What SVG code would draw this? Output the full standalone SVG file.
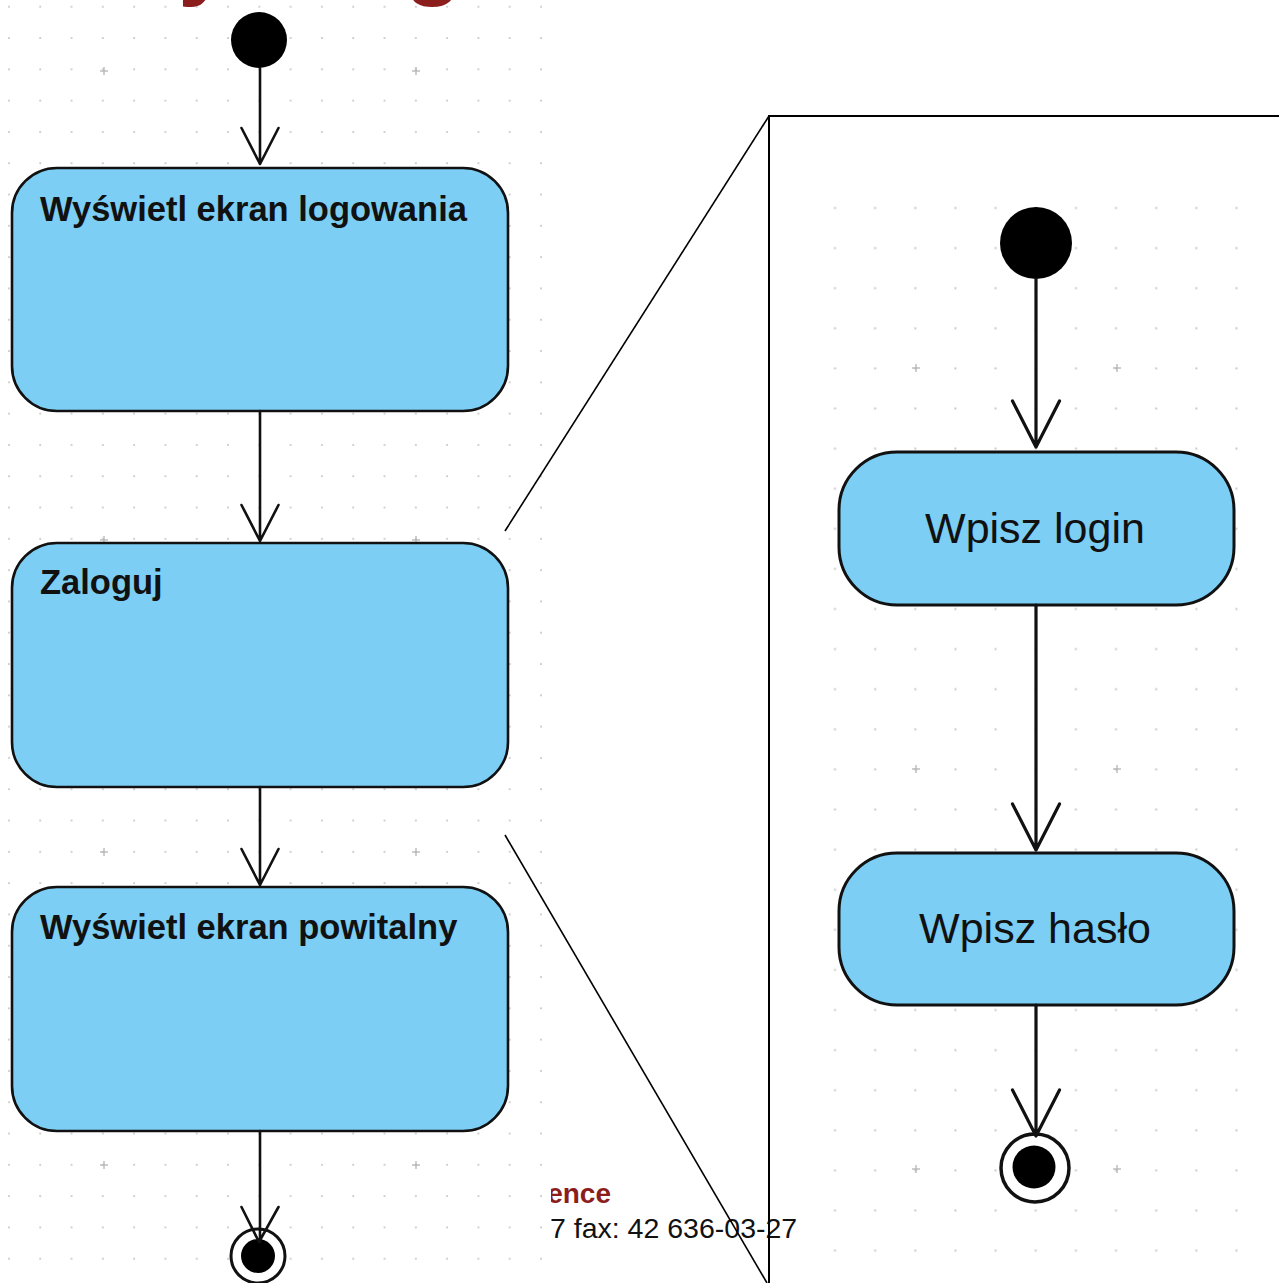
<svg xmlns="http://www.w3.org/2000/svg" width="1279" height="1283" viewBox="0 0 1279 1283">
  <style>
    .action { fill: #7CCEF4; stroke: #111; stroke-width: 2.6; }
    .action-r { fill: #7CCEF4; stroke: #111; stroke-width: 3; }
    .lbl-b { font-family: "Liberation Sans", Arial, sans-serif; font-weight: bold; font-size: 34.5px; fill: #111; }
    .lbl-r { font-family: "Liberation Sans", Arial, sans-serif; font-size: 43px; fill: #111; text-anchor: middle; }
    .flow { fill: none; stroke: #111; stroke-width: 2.6; stroke-linecap: round; stroke-linejoin: round; }
    .flow-r { fill: none; stroke: #111; stroke-width: 3.2; stroke-linecap: round; stroke-linejoin: round; }
    .plus { stroke: #b4b4b4; stroke-width: 1.3; }
    .frame { fill: none; stroke: #000; stroke-width: 2; }
    .zoomline { fill: none; stroke: #000; stroke-width: 1.6; }
    .title { font-family: "Liberation Sans", Arial, sans-serif; font-weight: bold; font-size: 96px; fill: #8C1D1D; }
    .foot-red { font-family: "Liberation Sans", Arial, sans-serif; font-weight: bold; font-size: 28px; fill: #8C1D1D; }
    .foot { font-family: "Liberation Sans", Arial, sans-serif; font-size: 28.5px; fill: #111; }
  </style>
  <defs>
    <pattern id="gridL" patternUnits="userSpaceOnUse" x="-6.75" y="-8.95" width="31.3" height="31.3">
      <rect x="14.8" y="14.8" width="1.8" height="1.8" fill="#c8c8c8"/>
    </pattern>
    <pattern id="gridR" patternUnits="userSpaceOnUse" x="815" y="188" width="40.15" height="40.1">
      <rect x="19" y="19" width="2" height="2" fill="#c8c8c8"/>
    </pattern>
    <clipPath id="topClip"><rect x="0" y="0" width="600" height="9"/></clipPath>
    <clipPath id="footClip"><rect x="551" y="1150" width="300" height="120"/></clipPath>
    <g id="plusMark"><line x1="-4" y1="0" x2="4" y2="0"/><line x1="0" y1="-4" x2="0" y2="4"/></g>
  </defs>

  <rect width="1279" height="1283" fill="#fff"/>

  <!-- left canvas grid -->
  <rect x="0" y="0" width="548" height="1283" fill="url(#gridL)"/>
  <g class="plus">
    <use href="#plusMark" x="104" y="71"/><use href="#plusMark" x="416" y="71"/>
    <use href="#plusMark" x="104" y="540"/><use href="#plusMark" x="416" y="540"/>
    <use href="#plusMark" x="104" y="852"/><use href="#plusMark" x="416" y="852"/>
    <use href="#plusMark" x="104" y="1165"/><use href="#plusMark" x="416" y="1165"/>
  </g>

  <!-- title descenders peeking in at the top edge -->
  <g clip-path="url(#topClip)">
    <text class="title" x="178" y="-13">y</text>
    <text class="title" x="404" y="-13">g</text>
  </g>

  <!-- magnified panel -->
  <rect x="769" y="116" width="530" height="1190" fill="#fff"/>
  <rect x="815" y="188" width="440" height="1080" fill="url(#gridR)"/>
  <g class="plus">
    <use href="#plusMark" x="916" y="368"/><use href="#plusMark" x="1117" y="368"/>
    <use href="#plusMark" x="916" y="769"/><use href="#plusMark" x="1117" y="769"/>
    <use href="#plusMark" x="916" y="1169"/><use href="#plusMark" x="1117" y="1169"/>
  </g>

  <!-- footer text -->
  <g clip-path="url(#footClip)">
    <text class="foot-red" x="611" y="1203" text-anchor="end">ence</text>
  </g>
  <text class="foot" x="550" y="1238">7 fax: 42 636-03-27</text>

  <!-- panel frame and zoom guide lines -->
  <g id="zoom-frame">
    <polyline class="frame" points="769,1290 769,116 1290,116"/>
    <line class="zoomline" x1="769" y1="116" x2="505" y2="531"/>
    <line class="zoomline" x1="505" y1="835" x2="767" y2="1283"/>
  </g>

  <!-- left diagram nodes -->
  <g id="start-main">
    <circle cx="259" cy="40" r="28" fill="#000"/>
  </g>
  <g id="show-login-screen">
    <rect class="action" x="12" y="168" width="496" height="243" rx="45" ry="45"/>
    <text class="lbl-b" x="40" y="221">Wyświetl ekran logowania</text>
  </g>
  <g id="log-in">
    <rect class="action" x="12" y="543" width="496" height="244" rx="45" ry="45"/>
    <text class="lbl-b" x="40" y="594">Zaloguj</text>
  </g>
  <g id="show-welcome-screen">
    <rect class="action" x="12" y="887" width="496" height="244" rx="45" ry="45"/>
    <text class="lbl-b" x="40" y="939">Wyświetl ekran powitalny</text>
  </g>
  <g id="end-main">
    <circle cx="258" cy="1256" r="27" fill="#fff" stroke="#111" stroke-width="3"/>
    <circle cx="258" cy="1256" r="17" fill="#000"/>
  </g>

  <!-- sub-activity nodes -->
  <g id="start-sub">
    <circle cx="1036" cy="243" r="36" fill="#000"/>
  </g>
  <g id="enter-login">
    <rect class="action-r" x="839" y="452" width="395" height="153" rx="58" ry="58"/>
    <text class="lbl-r" x="1035" y="543">Wpisz login</text>
  </g>
  <g id="enter-password">
    <rect class="action-r" x="839" y="853" width="395" height="152" rx="58" ry="58"/>
    <text class="lbl-r" x="1035" y="943">Wpisz hasło</text>
  </g>
  <g id="end-sub">
    <circle cx="1035" cy="1168" r="34" fill="#fff" stroke="#111" stroke-width="3.5"/>
    <circle cx="1034" cy="1167" r="21.5" fill="#000"/>
  </g>

  <!-- control flows -->
  <g id="connectors">
    <path class="flow" d="M260 68 V164 M241.5 128 L260 164 L278.5 128"/>
    <path class="flow" d="M260 411 V541 M241.5 505 L260 541 L278.5 505"/>
    <path class="flow" d="M260 787 V885 M241.5 849 L260 885 L278.5 849"/>
    <path class="flow" d="M260 1131 V1242 M241.5 1207 L259 1242 L278.5 1207"/>

    <path class="flow-r" d="M1036 279 V447 M1012.5 401 L1036 447 L1059.5 401"/>
    <path class="flow-r" d="M1036 605 V850 M1012.5 804 L1036 850 L1059.5 804"/>
    <path class="flow-r" d="M1036 1005 V1136 M1012.5 1090 L1036 1136 L1059.5 1090"/>
  </g>
</svg>
